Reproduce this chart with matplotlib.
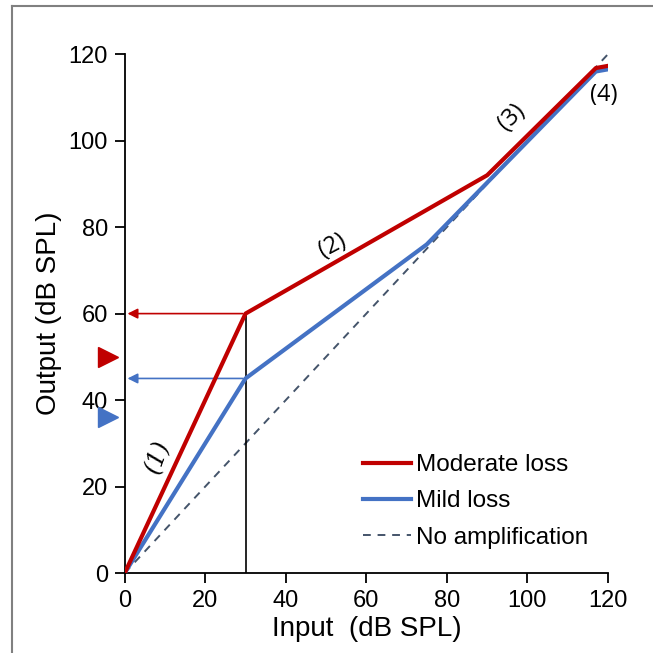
import matplotlib
matplotlib.use("Agg")
import matplotlib.pyplot as plt
from matplotlib.lines import Line2D

plt.rcParams['font.family'] = ['Liberation Sans', 'DejaVu Sans']

# input/output curves (dB SPL)
mod_x = [0, 30, 90, 117, 120]
mod_y = [0, 60, 92, 116.8, 117.3]
mild_x = [0, 30, 75, 117, 120]
mild_y = [0, 45, 76, 116, 116.5]
none_x = [0, 120]
none_y = [0, 120]

knee_in = 30
mod_out = 60
mild_out = 45
mod_thr = 50
mild_thr = 36

red = '#C00000'
blue = '#4472C4'
slate = '#44546A'

fig = plt.figure(figsize=(6.53, 6.53), dpi=100)
ax = fig.add_axes([0.191, 0.1225, 0.74, 0.7945])

# frame around the figure (top and left only)
fig.add_artist(Line2D([0.018, 0.018], [0, 0.991], color='#808080', lw=1.5, transform=fig.transFigure))
fig.add_artist(Line2D([0.018, 1], [0.991, 0.991], color='#808080', lw=1.5, transform=fig.transFigure))

ax.plot(none_x, none_y, color=slate, lw=1.4, ls=(0, (4, 3.5)), label='No amplification', zorder=2)
ax.plot(mild_x, mild_y, color=blue, lw=3.0, label='Mild loss', zorder=3)
ax.plot(mod_x, mod_y, color=red, lw=3.0, label='Moderate loss', zorder=4)

ax.plot([knee_in, knee_in], [0, mod_out], color='black', lw=1.2, zorder=2)

ax.annotate('', xy=(0, mod_out), xytext=(knee_in, mod_out),
            arrowprops=dict(arrowstyle='-|>', color=red, lw=1.2, mutation_scale=15))
ax.annotate('', xy=(0, mild_out), xytext=(knee_in, mild_out),
            arrowprops=dict(arrowstyle='-|>', color=blue, lw=1.2, mutation_scale=15))

ax.plot([-4.2], [mod_thr], marker='>', color=red, ms=14, clip_on=False, ls='none')
ax.plot([-4.2], [mild_thr], marker='>', color=blue, ms=14, clip_on=False, ls='none')

ax.text(8.2, 27, '(1)', rotation=70, fontsize=17, ha='center', va='center',
        family=['DejaVu Serif'], style='italic')
ax.text(51.5, 75.8, '(2)', rotation=28, fontsize=17, ha='center', va='center', family=['Open Sans'])
ax.text(96, 105.5, '(3)', rotation=45, fontsize=17, ha='center', va='center', family=['Open Sans'])
ax.text(119, 110.5, '(4)', fontsize=17, ha='center', va='center', family=['Open Sans'])

ax.set_xlim(0, 120)
ax.set_ylim(0, 120)
ax.set_xticks(range(0, 121, 20))
ax.set_yticks(range(0, 121, 20))
ax.tick_params(labelsize=17, length=7, width=1.3, direction='out', pad=5)
ax.spines['top'].set_visible(False)
ax.spines['right'].set_visible(False)
ax.spines['left'].set_linewidth(1.3)
ax.spines['bottom'].set_linewidth(1.3)

ax.set_xlabel('Input  (dB SPL)', fontsize=20, labelpad=3)
ax.set_ylabel('Output (dB SPL)', fontsize=20, labelpad=5)

h, l = ax.get_legend_handles_labels()
ax.legend(h[::-1], l[::-1], loc='lower right', bbox_to_anchor=(1.005, 0.005), frameon=False,
          fontsize=17.5, handlelength=2.0, handletextpad=0.2, labelspacing=0.58)

fig.savefig('out.png', dpi=100)
